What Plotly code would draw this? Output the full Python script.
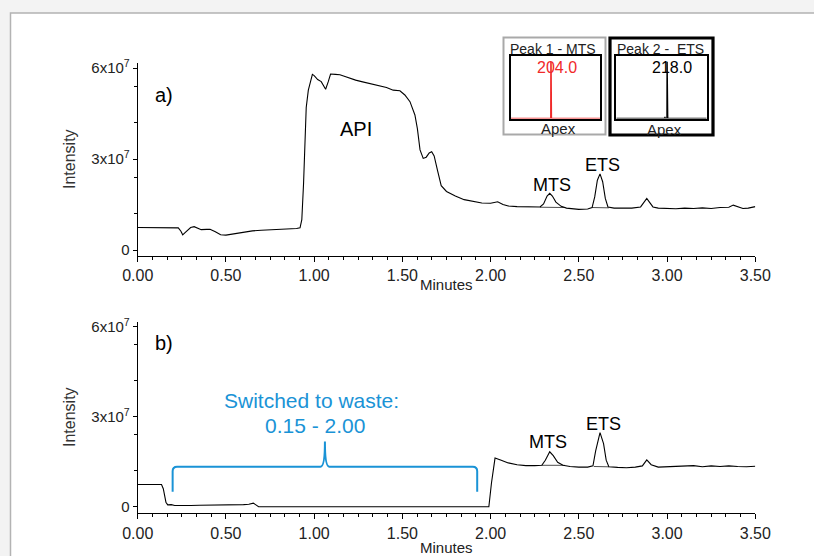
import plotly.graph_objects as go

W, H = 814, 556

# ---------------- data (intensity in units of 1e7) ----------------
top_time = [0.00, 0.10, 0.20, 0.23, 0.245, 0.255, 0.27, 0.30, 0.32, 0.34, 0.36, 0.39, 0.41, 0.44, 0.47,
            0.50, 0.55, 0.60, 0.65, 0.70, 0.75, 0.80, 0.85, 0.90, 0.92, 0.93, 0.94, 0.955, 0.967, 0.98,
            0.99, 1.00, 1.02, 1.04, 1.065, 1.08, 1.093, 1.12, 1.146, 1.175, 1.203, 1.235, 1.269, 1.29,
            1.316, 1.345, 1.373, 1.41, 1.448, 1.486, 1.514, 1.543, 1.571, 1.585, 1.60, 1.618, 1.635,
            1.652, 1.666, 1.68, 1.70, 1.72, 1.75, 1.80, 1.85, 1.90, 1.95, 2.00, 2.04, 2.07, 2.10, 2.15,
            2.20, 2.25, 2.28, 2.30, 2.32, 2.335, 2.35, 2.37, 2.40, 2.43, 2.47, 2.50, 2.55, 2.575, 2.59,
            2.605, 2.62, 2.635, 2.65, 2.665, 2.70, 2.75, 2.80, 2.85, 2.87, 2.885, 2.90, 2.92, 2.95, 3.00,
            3.05, 3.10, 3.15, 3.20, 3.25, 3.30, 3.35, 3.375, 3.40, 3.43, 3.46, 3.50]
top_intensity_e7 = [0.74, 0.74, 0.735, 0.73, 0.62, 0.50, 0.58, 0.74, 0.77, 0.72, 0.67, 0.68, 0.68, 0.60, 0.50,
                    0.49, 0.54, 0.60, 0.63, 0.65, 0.66, 0.68, 0.69, 0.71, 0.73, 1.00, 2.20, 4.70, 5.27, 5.60,
                    5.79, 5.75, 5.62, 5.55, 5.30, 5.55, 5.80, 5.79, 5.78, 5.72, 5.66, 5.60, 5.55, 5.52,
                    5.47, 5.44, 5.41, 5.36, 5.27, 5.25, 5.11, 4.89, 4.45, 4.00, 3.30, 3.02, 3.06,
                    3.20, 3.24, 3.10, 2.60, 2.12, 1.93, 1.78, 1.66, 1.60, 1.55, 1.54, 1.59, 1.50, 1.45, 1.43,
                    1.42, 1.41, 1.42, 1.52, 1.78, 1.87, 1.78, 1.58, 1.44, 1.38, 1.35, 1.34, 1.35, 1.40, 1.75,
                    2.30, 2.51, 2.25, 1.70, 1.42, 1.38, 1.38, 1.38, 1.42, 1.60, 1.70, 1.58, 1.42, 1.38, 1.37,
                    1.36, 1.38, 1.37, 1.39, 1.37, 1.40, 1.41, 1.48, 1.42, 1.37, 1.38, 1.43]

bot_time = [0.00, 0.135, 0.145, 0.16, 0.17, 0.19, 0.21, 0.25, 0.30, 0.35, 0.40, 0.45, 0.50, 0.55, 0.60,
            0.63, 0.655, 0.67, 0.685, 1.00, 1.50, 1.99, 2.005, 2.025, 2.06, 2.10, 2.15, 2.20, 2.25, 2.29,
            2.31, 2.335, 2.355, 2.38, 2.41, 2.45, 2.50, 2.55, 2.58, 2.595, 2.62, 2.64, 2.655, 2.67, 2.72,
            2.77, 2.82, 2.86, 2.885, 2.91, 2.95, 3.00, 3.05, 3.10, 3.15, 3.20, 3.25, 3.30, 3.35, 3.40,
            3.45, 3.50]
bot_intensity_e7 = [0.74, 0.74, 0.60, 0.15, 0.06, 0.07, 0.04, 0.05, 0.04, 0.05, 0.05, 0.06, 0.06, 0.05, 0.07,
                    0.08, 0.12, 0.06, 0.0, 0.0, 0.0, 0.0, 0.80, 1.62, 1.55, 1.46, 1.40, 1.37, 1.37, 1.38,
                    1.55, 1.83, 1.70, 1.48, 1.38, 1.34, 1.32, 1.32, 1.36, 1.85, 2.47, 2.10, 1.55, 1.33, 1.31,
                    1.30, 1.32, 1.36, 1.56, 1.40, 1.32, 1.33, 1.33, 1.36, 1.37, 1.33, 1.36, 1.34, 1.36, 1.34,
                    1.33, 1.35]

# integration baselines under the labelled peaks (start, end times and levels)
top_base_t = [[2.28, 2.42], [2.575, 2.67]]
top_base_v = [[1.41, 1.40], [1.40, 1.39]]
bot_base_t = [[2.29, 2.42], [2.585, 2.67]]
bot_base_v = [[1.38, 1.38], [1.34, 1.33]]

# inset mass spectra (apex)
ms1_mz = [100, 203.6, 203.7, 204.0, 204.3, 204.5, 204.8, 205.0, 330]
ms1_int = [0, 0, 0, 100, 0, 0, 4, 0, 0]
ms2_mz = [100, 212.8, 213.0, 213.2, 217.7, 218.0, 218.3, 219.0, 219.3, 219.6, 310]
ms2_int = [0, 0, 3, 0, 0, 100, 0, 0, 6, 0, 0]

x_ticks = [0.0, 0.5, 1.0, 1.5, 2.0, 2.5, 3.0, 3.5]
x_ticktext = ["0.00", "0.50", "1.00", "1.50", "2.00", "2.50", "3.00", "3.50"]
y_ticks_e7 = [0, 3, 6]
y_ticktext = ["0", "3x10<sup>7</sup>", "6x10<sup>7</sup>"]
y_minor_e7 = [1.2, 2.4, 4.2, 5.4]

waste_start, waste_end = 0.198, 1.924   # brace extent (minutes)
brace_level_e7, brace_foot_e7, brace_tip_e7 = 1.33, 0.50, 2.17

E7 = 1e7
FONT = "Liberation Sans, Arial, sans-serif"
BLUE = "#1a93d6"
RED = "#f02a2a"


def px(x):
    return x / W


def py(y):
    return 1 - y / H


fig = go.Figure()
fig.add_trace(go.Scatter(x=top_time, y=[v * E7 for v in top_intensity_e7], mode="lines",
                         line=dict(color="black", width=1.1), xaxis="x", yaxis="y"))
fig.add_trace(go.Scatter(x=bot_time, y=[v * E7 for v in bot_intensity_e7], mode="lines",
                         line=dict(color="black", width=1.1), xaxis="x2", yaxis="y2"))
for t, v in zip(top_base_t, top_base_v):
    fig.add_trace(go.Scatter(x=t, y=[a * E7 for a in v], mode="lines",
                             line=dict(color="black", width=0.7), xaxis="x", yaxis="y"))
for t, v in zip(bot_base_t, bot_base_v):
    fig.add_trace(go.Scatter(x=t, y=[a * E7 for a in v], mode="lines",
                             line=dict(color="black", width=0.7), xaxis="x2", yaxis="y2"))
fig.add_trace(go.Scatter(x=ms1_mz, y=ms1_int, mode="lines", line=dict(color=RED, width=1.6),
                         xaxis="x3", yaxis="y3"))
fig.add_trace(go.Scatter(x=ms2_mz, y=ms2_int, mode="lines", line=dict(color="black", width=1.4),
                         xaxis="x4", yaxis="y4"))

xdom = [px(137.7), px(755.3)]
common_x = dict(range=[0, 3.5], tickmode="array", tickvals=x_ticks, ticktext=x_ticktext,
                showline=True, linecolor="black", linewidth=1, ticks="outside", ticklen=5,
                tickcolor="black", tickwidth=1, showgrid=False, zeroline=False, automargin=False,
                tickfont=dict(family=FONT, size=16, color="#222"),
                minor=dict(dtick=0.5 / 6, tick0=0, ticks="outside", ticklen=3, tickcolor="black",
                           tickwidth=1, showgrid=False))
common_y = dict(tickmode="array", tickvals=[v * E7 for v in y_ticks_e7], ticktext=y_ticktext,
                showline=True, linecolor="black", linewidth=1, ticks="outside", ticklen=4,
                tickcolor="black", tickwidth=1, showgrid=False, zeroline=False, automargin=False,
                tickfont=dict(family=FONT, size=15, color="#222"),
                minor=dict(tickmode="array", tickvals=[v * E7 for v in y_minor_e7], ticks="outside",
                           ticklen=3, tickcolor="black", tickwidth=1, showgrid=False))

inset_ax = dict(showline=True, mirror=True, linecolor="black", linewidth=2, ticks="",
                showticklabels=False, showgrid=False, zeroline=False, automargin=False)

fig.update_layout(
    width=W, height=H, autosize=False,
    margin=dict(l=0, r=0, t=0, b=0, pad=0, autoexpand=False),
    paper_bgcolor="#f3f3f3", plot_bgcolor="rgba(0,0,0,0)",
    showlegend=False,
    xaxis=dict(domain=xdom, anchor="y", **common_x),
    yaxis=dict(domain=[py(255.7), py(63.3)], anchor="x", range=[-0.188 * E7, 6.155 * E7], **common_y),
    xaxis2=dict(domain=xdom, anchor="y2", **common_x),
    yaxis2=dict(domain=[py(513.3), py(321.7)], anchor="x2", range=[-0.22 * E7, 6.167 * E7], **common_y),
    xaxis3=dict(domain=[px(510.5), px(600)], anchor="y3", range=[100, 330], **inset_ax),
    yaxis3=dict(domain=[py(118.5), py(56)], anchor="x3", range=[0, 110], **inset_ax),
    xaxis4=dict(domain=[px(616.3), px(706.7)], anchor="y4", range=[100, 310], **inset_ax),
    yaxis4=dict(domain=[py(118.5), py(56)], anchor="x4", range=[0, 110], **inset_ax),
)

# page frame
fig.add_shape(type="rect", xref="paper", yref="paper", x0=px(10.5), x1=1.2, y0=-0.2, y1=py(13),
              line=dict(color="#b3b3b3", width=1.5), fillcolor="white", layer="below")
# inset boxes
fig.add_shape(type="rect", xref="paper", yref="paper", x0=px(503.5), x1=px(605.5), y0=py(134.5), y1=py(37.5),
              line=dict(color="#a9a9a9", width=2), fillcolor="rgba(0,0,0,0)")
fig.add_shape(type="rect", xref="paper", yref="paper", x0=px(610), x1=px(713), y0=py(135), y1=py(38),
              line=dict(color="black", width=3.2), fillcolor="rgba(0,0,0,0)")

# brace (waste switch)
x0, x1 = waste_start, waste_end
xc = (x0 + x1) / 2
yl, yf, yt = brace_level_e7 * E7, brace_foot_e7 * E7, brace_tip_e7 * E7
dx = 0.025
dy = 0.15 * E7
path = (f"M {x0},{yf} L {x0},{yl - dy} Q {x0},{yl} {x0 + dx},{yl} "
        f"L {xc - dx},{yl} Q {xc},{yl} {xc},{yt} Q {xc},{yl} {xc + dx},{yl} "
        f"L {x1 - dx},{yl} Q {x1},{yl} {x1},{yl - dy} L {x1},{yf}")
fig.add_shape(type="path", xref="x2", yref="y2", path=path, line=dict(color=BLUE, width=2))


def note(text, x, y, size, color="black", xanchor="center"):
    fig.add_annotation(text=text, x=px(x), y=py(y), xref="paper", yref="paper", showarrow=False,
                       xanchor=xanchor, yanchor="middle", font=dict(family=FONT, size=size, color=color))


note("a)", 164, 95, 20)
note("b)", 164, 343, 20)
note("API", 356, 129, 20)
note("MTS", 552, 185, 18)
note("ETS", 602, 165, 18)
note("MTS", 548, 442, 18)
note("ETS", 603, 424, 18)
note("Switched to waste:", 311, 400, 21, BLUE)
note("0.15 - 2.00", 315, 425, 21, BLUE)
note("Minutes", 447, 284, 15, "#222")
note("Minutes", 447, 547, 15, "#222")
for yc in (159, 417):
    fig.add_annotation(text="Intensity", x=px(69), y=py(yc), xref="paper", yref="paper", showarrow=False,
                       textangle=-90, xanchor="center", yanchor="middle",
                       font=dict(family=FONT, size=16, color="#333"))
note("Peak 1 - MTS", 552.5, 49, 14, "#222")
note("204.0", 557, 67, 16, RED)
note("Apex", 558, 128, 15, "#222")
note("Peak 2 -  ETS", 660, 49, 14, "#222")
note("218.0", 672, 67, 16, "black")
note("Apex", 664, 129, 15, "#222")

fig.write_html("out.html", config={"displayModeBar": False},
               post_script="document.body.style.margin='0';document.body.style.overflow='hidden';")
